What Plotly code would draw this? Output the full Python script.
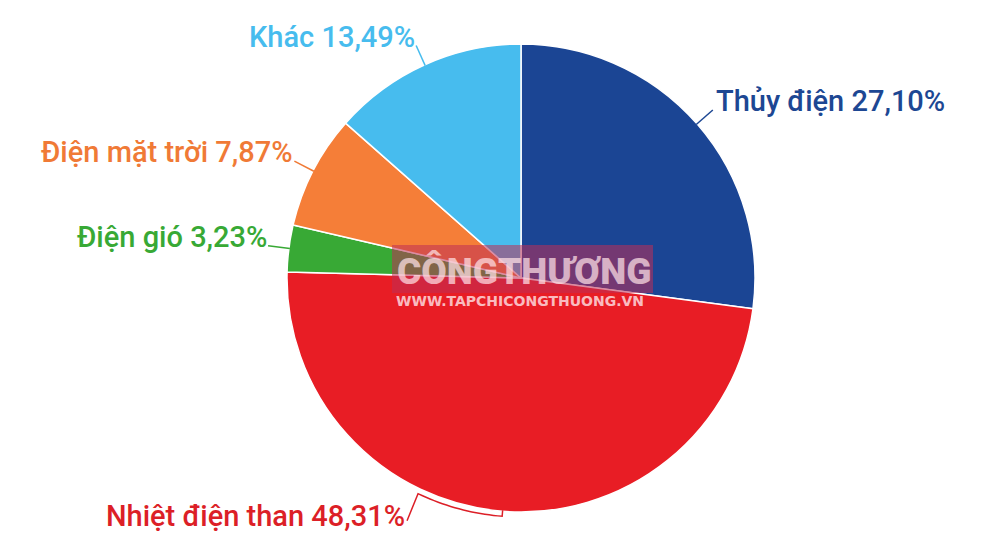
import math
import plotly.graph_objects as go

# ---- data ----
labels = ["Thủy điện", "Nhiệt điện than", "Điện gió", "Điện mặt trời", "Khác"]
values = [27.10, 48.31, 3.23, 7.87, 13.49]
value_text = ["27,10%", "48,31%", "3,23%", "7,87%", "13,49%"]
colors = ["#1b4594", "#e81d25", "#38a935", "#f57e38", "#47bcee"]
label_colors = ["#1d4793", "#dc1f27", "#38a935", "#f07a36", "#47bcee"]

# ---- geometry ----
W, H = 1000, 554
CX, CY, R = 521, 278, 234
LEAD = 21          # length of leader line (px)
TEXT_UP = 9        # text centre above leader tail (px)
FS = 29


def px(x):
    return x / W


def py(y):
    return 1 - y / H


def pt(theta_deg, r):
    t = math.radians(theta_deg)
    return CX + r * math.sin(t), CY - r * math.cos(t)


fig = go.Figure(go.Pie(
    labels=labels, values=values, sort=False, direction="clockwise", rotation=0,
    marker=dict(colors=colors, line=dict(color="white", width=1.5)),
    textinfo="none", hoverinfo="label+percent", showlegend=False,
    domain=dict(x=[px(CX - R), px(CX + R)], y=[py(CY + R), py(CY - R)]),
))

total = sum(values)
shapes = []
annotations = []
cum = 0.0
for i, (lab, v, vt, col) in enumerate(zip(labels, values, value_text, label_colors)):
    mid = (cum + v / 2) / total * 360
    cum += v
    if lab == "Nhiệt điện than":
        # bracket hugging the rim
        rb = R + 5
        span = 21
        pts = [pt(mid, R - 1)]
        n = 20
        for k in range(n + 1):
            pts.append(pt(mid + span * k / n, rb))
        ex, ey = pts[-1]
        tx, ty = ex - 11, ey + 27
        pts.append((tx, ty))
        path = "M " + " L ".join(f"{px(a):.5f},{py(b):.5f}" for a, b in pts)
        shapes.append(dict(type="path", path=path, xref="paper", yref="paper",
                           line=dict(color=col, width=1.5)))
        annotations.append(dict(x=px(tx), y=py(ty - 5), xref="paper", yref="paper",
                                text=f"{lab} {vt}", showarrow=False,
                                xanchor="right", yanchor="middle",
                                font=dict(family="Roboto", size=FS, color=col, weight=500)))
        continue
    hx, hy = pt(mid, R - 1)
    tx, ty = pt(mid, R + LEAD)
    shapes.append(dict(type="line", xref="paper", yref="paper",
                       x0=px(hx), y0=py(hy), x1=px(tx), y1=py(ty),
                       line=dict(color=col, width=1.5)))
    right_side = math.sin(math.radians(mid)) > 0
    annotations.append(dict(x=px(tx + 1), y=py(ty - TEXT_UP),
                            xref="paper", yref="paper",
                            text=f"{lab} {vt}", showarrow=False,
                            xanchor="left" if right_side else "right", yanchor="middle",
                            font=dict(family="Roboto", size=FS, color=col, weight=500)))

# ---- watermark ----
shapes.append(dict(type="rect", xref="paper", yref="paper",
                   x0=px(392), x1=px(653), y0=py(293), y1=py(245),
                   fillcolor="rgba(190,45,85,0.55)", line=dict(width=0)))
annotations.append(dict(x=px(524), y=py(271), xref="paper", yref="paper",
                        text="CÔNGTHƯƠNG", showarrow=False,
                        xanchor="center", yanchor="middle",
                        font=dict(family="Roboto", size=37, weight=900,
                                  color="rgba(255,225,230,0.72)")))
annotations.append(dict(x=px(520), y=py(301), xref="paper", yref="paper",
                        text="WWW.TAPCHICONGTHUONG.VN", showarrow=False,
                        xanchor="center", yanchor="middle",
                        font=dict(family="DejaVu Sans", size=14, weight=700,
                                  color="rgba(255,232,236,0.8)")))

fig.update_layout(
    width=W, height=H, margin=dict(l=0, r=0, t=0, b=0),
    paper_bgcolor="white", plot_bgcolor="white",
    shapes=shapes, annotations=annotations,
)

fig.write_html("out.html", config={"displayModeBar": False},
               post_script="document.body.style.margin='0';document.body.style.padding='0';")
